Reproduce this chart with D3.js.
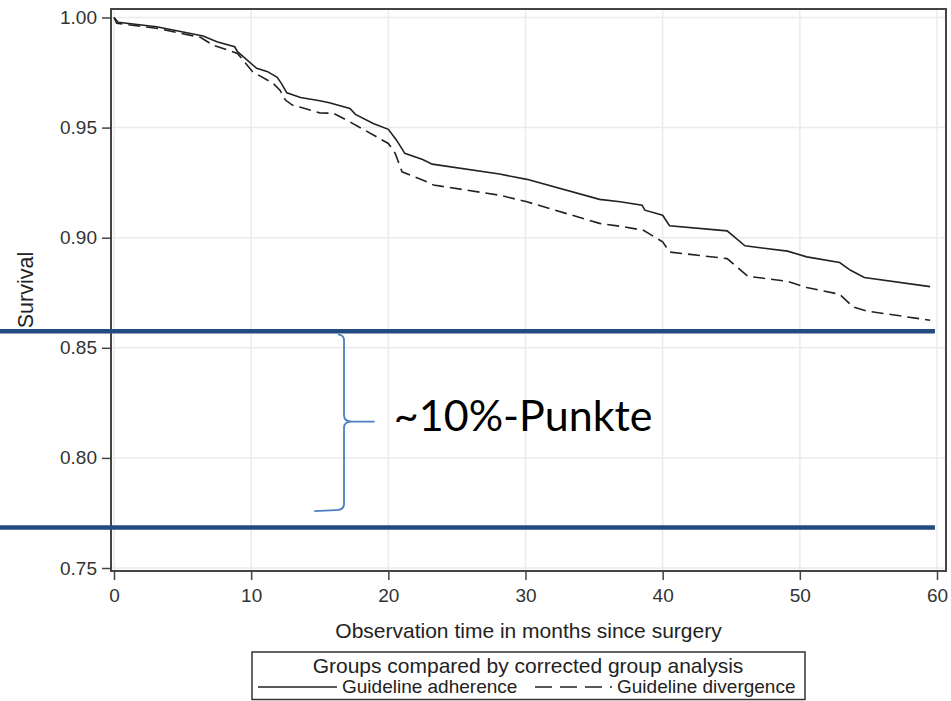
<!DOCTYPE html>
<html lang="en">
<head>
  <meta charset="UTF-8">
  <title>Survival by guideline adherence</title>
  <style>
    body { margin: 0; background: #fff; }
    svg { display: block; font-family: "Liberation Sans", Arial, sans-serif; }
    .grid line { stroke: #ebebeb; stroke-width: 1.5; }
    .axis text { font-size: 19px; fill: #333; }
    .axis line { stroke: #444; stroke-width: 1.5; }
    .curve { fill: none; stroke: #222; stroke-width: 1.6; }
  </style>
</head>
<body>
  <svg width="951" height="701"></svg>

  <script src="https://d3js.org/d3.v7.min.js"></script>
  <script>
    // Kaplan-Meier estimates (months, survival)
    const adherenceTime = [0, 0.3, 3.1, 6.5, 7.5, 8.8, 9.0, 10.4, 11.2, 11.9, 12.2, 12.6, 13.6, 15.0, 15.7, 17.2, 17.6, 18.9, 20.0, 20.6, 21.2, 22.5, 23.2, 28.1, 30.1, 35.4, 36.9, 38.5, 38.7, 40.0, 40.5, 44.7, 46.0, 49.1, 50.5, 52.9, 53.7, 54.7, 59.5];
    const adherenceSurv = [1.000, 0.9978, 0.9958, 0.9916, 0.9890, 0.9867, 0.9845, 0.9769, 0.9754, 0.9728, 0.9701, 0.9658, 0.9637, 0.9622, 0.9613, 0.9587, 0.9560, 0.9519, 0.9492, 0.9443, 0.9383, 0.9355, 0.9334, 0.9289, 0.9265, 0.9174, 0.9163, 0.9148, 0.9125, 0.9102, 0.9054, 0.9031, 0.8963, 0.8939, 0.8913, 0.8887, 0.8852, 0.8819, 0.8778];

    const divergenceTime = [0, 0.2, 3.1, 6.3, 7.2, 9.0, 10.1, 11.6, 12.1, 12.5, 13.0, 13.6, 15.0, 16.0, 17.2, 20.0, 20.5, 21.0, 22.8, 23.3, 28.1, 30.1, 35.4, 36.9, 38.6, 40.0, 40.5, 44.7, 46.2, 49.1, 50.5, 52.9, 53.9, 54.9, 59.5];
    const divergenceSurv = [1.000, 0.9974, 0.9951, 0.9910, 0.9875, 0.9837, 0.9754, 0.9701, 0.9670, 0.9625, 0.9602, 0.9592, 0.9567, 0.9565, 0.9526, 0.9428, 0.9383, 0.9299, 0.9254, 0.9239, 0.9193, 0.9163, 0.9065, 0.9052, 0.9034, 0.8981, 0.8935, 0.8905, 0.8825, 0.8802, 0.8774, 0.8743, 0.8685, 0.8667, 0.8625];

    const xTicks = [0, 10, 20, 30, 40, 50, 60];
    const yTicks = [0.75, 0.80, 0.85, 0.90, 0.95, 1.00];

    const seriesNames = ["Guideline adherence", "Guideline divergence"];

    // annotation drawn over the chart
    const bandLevels = [0.8575, 0.7684];
    const bandEnd = 59.85;
    const brace = { x: 16.77, tip: 19.0, tail: 14.6, top: 0.8560, mid: 0.8165, bottom: 0.7763 };
    const braceLabel = { text: "~10%-Punkte", x: 20.4, y: 0.8120 };

    const width = 951;
    const height = 701;
    const frame = { left: 111, top: 9, right: 946, bottom: 571 };

    const svg = d3.select("svg");

    const x = d3.scaleLinear().domain([0, 60]).range([114, 937]);
    const y = d3.scaleLinear().domain([0.75, 1.00]).range([568, 17.5]);

    // grid
    const grid = svg.append("g").attr("class", "grid");
    grid.selectAll(".gx").data(xTicks).join("line")
        .attr("x1", d => x(d)).attr("x2", d => x(d))
        .attr("y1", frame.top).attr("y2", frame.bottom);
    grid.selectAll(".gy").data(yTicks).join("line")
        .attr("class", "gy")
        .attr("x1", frame.left).attr("x2", frame.right)
        .attr("y1", d => y(d)).attr("y2", d => y(d));

    // axes
    const yAxis = svg.append("g")
        .attr("class", "axis")
        .attr("transform", `translate(${frame.left},0)`)
        .call(d3.axisLeft(y).tickValues(yTicks).tickFormat(d3.format(".2f")).tickSize(9).tickPadding(5));
    yAxis.select(".domain").remove();

    const xAxis = svg.append("g")
        .attr("class", "axis")
        .attr("transform", `translate(0,${frame.bottom})`)
        .call(d3.axisBottom(x).tickValues(xTicks).tickFormat(d3.format("d")).tickSize(9).tickPadding(8.5));
    xAxis.select(".domain").remove();

    // plot frame
    svg.append("rect")
        .attr("x", frame.left).attr("y", frame.top)
        .attr("width", frame.right - frame.left)
        .attr("height", frame.bottom - frame.top)
        .attr("fill", "none")
        .attr("stroke", "#444")
        .attr("stroke-width", 2);

    // survival curves
    const line = d3.line().x(d => x(d[0])).y(d => y(d[1]));

    svg.append("path")
        .datum(d3.zip(adherenceTime, adherenceSurv))
        .attr("class", "curve")
        .attr("d", line);

    svg.append("path")
        .datum(d3.zip(divergenceTime, divergenceSurv))
        .attr("class", "curve")
        .attr("stroke-dasharray", "12,6")
        .attr("d", line);

    // axis titles
    svg.append("text")
        .attr("x", (frame.left + frame.right) / 2)
        .attr("y", 638)
        .attr("text-anchor", "middle")
        .attr("font-size", 21)
        .attr("fill", "#222")
        .text("Observation time in months since surgery");

    svg.append("text")
        .attr("transform", "translate(33,290) rotate(-90)")
        .attr("text-anchor", "middle")
        .attr("font-size", 21.5)
        .attr("fill", "#222")
        .text("Survival");

    // legend
    const legend = svg.append("g");
    legend.append("rect")
        .attr("x", 252).attr("y", 652)
        .attr("width", 553).attr("height", 47.5)
        .attr("fill", "#fff")
        .attr("stroke", "#333")
        .attr("stroke-width", 1.5);
    legend.append("text")
        .attr("x", 528).attr("y", 673)
        .attr("text-anchor", "middle")
        .attr("font-size", 21)
        .attr("fill", "#222")
        .text("Groups compared by corrected group analysis");

    const items = [
      { name: seriesNames[0], x0: 258, x1: 337, dash: null },
      { name: seriesNames[1], x0: 535, x1: 612, dash: "17,8" }
    ];
    const item = legend.selectAll(".item").data(items).join("g");
    item.append("line")
        .attr("x1", d => d.x0).attr("x2", d => d.x1)
        .attr("y1", 687).attr("y2", 687)
        .attr("stroke", "#222").attr("stroke-width", 1.4)
        .attr("stroke-dasharray", d => d.dash);
    item.append("text")
        .attr("x", d => d.x1 + 5).attr("y", 693)
        .attr("font-size", 19)
        .attr("fill", "#222")
        .text(d => d.name);

    // blue reference lines and brace
    svg.selectAll(".band").data(bandLevels).join("line")
        .attr("x1", 0).attr("x2", x(bandEnd))
        .attr("y1", d => y(d)).attr("y2", d => y(d))
        .attr("stroke", "#234b80")
        .attr("stroke-width", 4.5);

    const bx = x(brace.x), bt = y(brace.top), bm = y(brace.mid), bb = y(brace.bottom);
    const bracePath = d3.path();
    bracePath.moveTo(bx - 6, bt);
    bracePath.quadraticCurveTo(bx, bt, bx, bt + 6);
    bracePath.lineTo(bx, bm - 6);
    bracePath.quadraticCurveTo(bx, bm, bx + 8, bm);
    bracePath.lineTo(x(brace.tip), bm);
    bracePath.moveTo(bx + 8, bm);
    bracePath.quadraticCurveTo(bx, bm, bx, bm + 6);
    bracePath.lineTo(bx, bb - 6);
    bracePath.quadraticCurveTo(bx, bb, bx - 8, bb);
    bracePath.lineTo(x(brace.tail), bb + 1);

    svg.append("path")
        .attr("d", bracePath.toString())
        .attr("fill", "none")
        .attr("stroke", "#4d7fc0")
        .attr("stroke-width", 1.8);

    svg.append("text")
        .attr("x", x(braceLabel.x))
        .attr("y", y(braceLabel.y))
        .attr("font-family", "Lato, 'Open Sans', sans-serif")
        .attr("font-size", 43)
        .attr("fill", "#000")
        .text(braceLabel.text);
  </script>
</body>
</html>
